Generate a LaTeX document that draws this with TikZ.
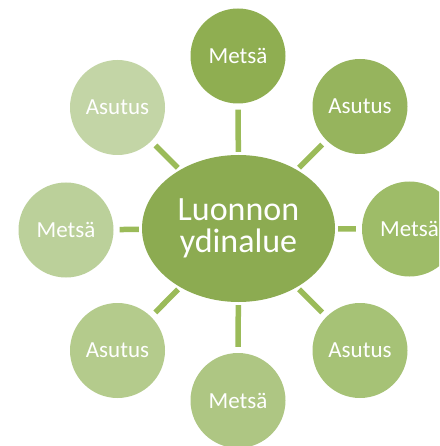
\documentclass[tikz,border=0pt]{standalone}
\usepackage{fontspec}
\setmainfont{Carlito}
\usetikzlibrary{shapes.geometric}
\definecolor{cc}{HTML}{8CAB51}
\definecolor{k1}{HTML}{8FAE51}
\definecolor{k2}{HTML}{96B45D}
\definecolor{k3}{HTML}{9EBC68}
\definecolor{k4}{HTML}{A6C276}
\definecolor{k5}{HTML}{AEC683}
\definecolor{k6}{HTML}{B4CB8C}
\definecolor{k7}{HTML}{BBD09A}
\definecolor{k8}{HTML}{C3D5A6}
\definecolor{ln}{HTML}{9BBB59}
\tikzset{
  core/.style={ellipse, fill=cc, minimum width=193pt, minimum height=147pt, inner sep=0pt, text=white, align=center, font=\fontsize{34}{32}\selectfont},
  leaf/.style={circle, minimum size=95pt, inner sep=0pt, text=white, font=\fontsize{23}{26}\selectfont},
  link/.style={draw=ln, line width=5.5pt, shorten <=3pt, shorten >=6pt}
}
\begin{document}
\begin{tikzpicture}[x=1pt,y=-1pt]
\useasboundingbox (0,0) rectangle (439,446);
\clip (0,0) rectangle (439,446);
\node[core] (c) at (238.5,228.5) {Luonnon\\ydinalue};
\node[leaf, fill=k1] (n1) at (238,56) {Metsä};
\node[leaf, fill=k2] (n2) at (360,106.5) {Asutus};
\node[leaf, fill=k3] (n3) at (409.5,229) {Metsä};
\node[leaf, fill=k4] (n4) at (360,350.5) {Asutus};
\node[leaf, fill=k5] (n5) at (238,400.5) {Metsä};
\node[leaf, fill=k6] (n6) at (117.5,350.5) {Asutus};
\node[leaf, fill=k7] (n7) at (66,230) {Metsä};
\node[leaf, fill=k8] (n8) at (117.5,107.5) {Asutus};
\foreach \i in {1,...,8} {\draw[link] (c) -- (n\i);}
\end{tikzpicture}
\end{document}
